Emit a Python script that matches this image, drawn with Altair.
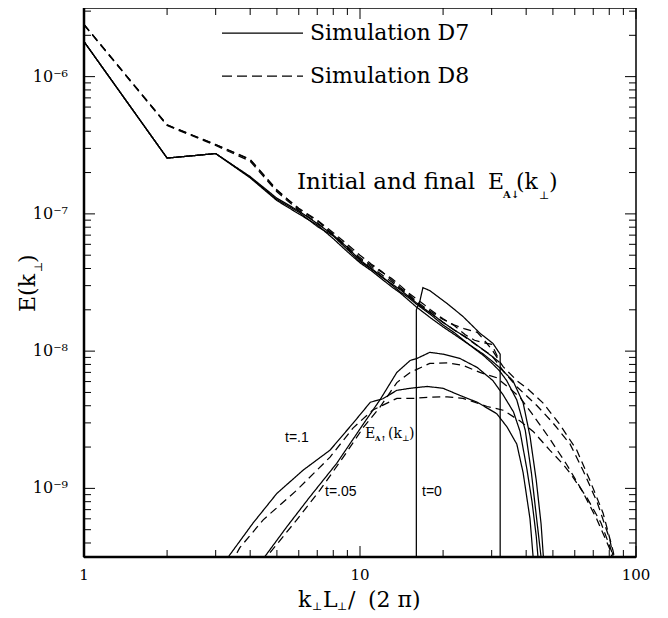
import altair as alt
import pandas as pd

W, H = 552, 549
SERIF = "DejaVu Serif"
SANS = "Liberation Sans"

# ---------------- data (k_perp L_perp / 2pi , E) ----------------
K_UP = [1, 2, 3, 4, 5, 6, 7, 8, 9, 10, 11, 12, 13, 14, 15, 16, 17, 18, 19, 20, 22, 24, 26, 28, 30, 32]
D7_INIT = [1.80e-6, 2.55e-7, 2.75e-7, 1.85e-7, 1.27e-7, 1.03e-7, 8.1e-8, 6.9e-8, 5.5e-8, 4.5e-8,
           3.95e-8, 3.45e-8, 3.1e-8, 2.8e-8, 2.5e-8, 2.25e-8, 2.05e-8, 1.9e-8, 1.75e-8, 1.62e-8,
           1.42e-8, 1.28e-8, 1.14e-8, 1.02e-8, 9.2e-9, 8.3e-9]
D8_INIT = [2.40e-6, 4.45e-7, 3.20e-7, 2.50e-7, 1.50e-7, 1.08e-7, 8.9e-8, 7.1e-8, 5.8e-8, 4.8e-8,
           4.2e-8, 3.75e-8, 3.4e-8, 3.0e-8, 2.65e-8, 2.4e-8, 2.2e-8, 2.0e-8, 1.85e-8, 1.72e-8,
           1.53e-8, 1.32e-8, 1.2e-8, 1.15e-8, 1.12e-8, 8.5e-9]

K_D7_FA = [1, 2, 3, 4, 5, 6, 7, 8, 9, 10, 11, 12, 13, 14, 15, 16, 18, 20, 22, 24, 26, 28, 30, 32,
           34, 37, 39.7, 41.8, 43.7, 45.6]
D7_FA = [1.80e-6, 2.55e-7, 2.75e-7, 1.87e-7, 1.30e-7, 1.05e-7, 8.5e-8, 7.0e-8, 5.7e-8, 4.6e-8,
         4.0e-8, 3.5e-8, 3.05e-8, 2.7e-8, 2.45e-8, 2.2e-8, 1.85e-8, 1.55e-8, 1.36e-8, 1.18e-8,
         1.04e-8, 9.3e-9, 8.2e-9, 7.2e-9, 6.1e-9, 4.4e-9, 2.65e-9, 1.29e-9, 5.9e-10, 2.8e-10]
K_D7_FB = [1, 2, 3, 4, 5, 6, 7, 8, 9, 10, 11, 12, 13, 14, 15, 16, 18, 20, 22, 24, 26, 28, 30, 32,
           35.8, 39, 41.3, 43.5, 45.3, 46.5]
D7_FB = [1.80e-6, 2.55e-7, 2.75e-7, 1.83e-7, 1.25e-7, 1.0e-7, 8.3e-8, 6.6e-8, 5.3e-8, 4.4e-8,
         3.85e-8, 3.35e-8, 2.95e-8, 2.65e-8, 2.35e-8, 2.1e-8, 1.75e-8, 1.5e-8, 1.32e-8, 1.17e-8,
         1.05e-8, 9.5e-9, 8.5e-9, 7.6e-9, 6.1e-9, 4.2e-9, 2.4e-9, 1.15e-9, 5.5e-10, 2.6e-10]

K_D8_FA = [1, 2, 3, 4, 5, 6, 7, 8, 9, 10, 11, 12, 13, 14, 15, 16, 18, 20, 22, 24, 26.6, 28, 30, 33,
           37, 40.3, 46, 52.7, 61, 68, 76, 82.6, 85.5]
D8_FA = [2.40e-6, 4.45e-7, 3.20e-7, 2.48e-7, 1.48e-7, 1.10e-7, 9.0e-8, 7.3e-8, 6.0e-8, 5.0e-8,
         4.3e-8, 3.8e-8, 3.3e-8, 2.9e-8, 2.6e-8, 2.3e-8, 1.95e-8, 1.7e-8, 1.55e-8, 1.45e-8,
         1.37e-8, 1.22e-8, 1.03e-8, 7.7e-9, 6.1e-9, 5.36e-9, 4.2e-9, 2.96e-9, 1.9e-9, 1.15e-9,
         6.6e-10, 3.5e-10, 2.4e-10]
K_D8_FB = [1, 2, 3, 4, 5, 6, 7, 8, 9, 10, 11, 12, 13, 14, 15, 16, 18, 20, 22, 24, 26, 28, 30, 33,
           37, 43.8, 50, 57.7, 64.3, 72.2, 80.5, 84.5]
D8_FB = [2.38e-6, 4.40e-7, 3.15e-7, 2.42e-7, 1.45e-7, 1.06e-7, 8.6e-8, 7.0e-8, 5.6e-8, 4.7e-8,
         4.1e-8, 3.6e-8, 3.2e-8, 2.85e-8, 2.55e-8, 2.25e-8, 1.9e-8, 1.62e-8, 1.42e-8, 1.27e-8,
         1.13e-8, 1.02e-8, 9.3e-9, 7.2e-9, 5.5e-9, 4.0e-9, 3.0e-9, 2.1e-9, 1.35e-9, 8.0e-10,
         4.2e-10, 2.5e-10]

# E_A-up (counter-propagating) spectra
K_T0 = [16.0, 16.0, 16.5, 16.9, 17.9, 20.7, 23.6, 27.2, 30.3, 32.2, 32.2]
UP_T0 = [1e-12, 2.0e-8, 2.34e-8, 2.9e-8, 2.76e-8, 2.22e-8, 1.79e-8, 1.35e-8, 1.14e-8, 9.5e-9, 1e-12]

K_T05_D7 = [4.3, 4.53, 5.43, 6.59, 8.23, 10.3, 11.8, 13.6, 15.2, 16.1, 17.9, 20.0, 23.0, 26.6,
            30.3, 33.0, 36.0, 38.0, 40.2, 42.0, 43.5, 44.5]
UP_T05_D7 = [2.7e-10, 3.2e-10, 5.25e-10, 8.7e-10, 1.52e-9, 2.96e-9, 4.4e-9, 7.0e-9, 8.55e-9,
             8.85e-9, 9.8e-9, 9.5e-9, 8.85e-9, 7.6e-9, 6.1e-9, 4.8e-9, 3.6e-9, 2.6e-9, 1.4e-9,
             8.0e-10, 4.5e-10, 2.6e-10]
K_T1_D7 = [3.25, 3.33, 4.1, 5.0, 6.23, 7.79, 9.43, 10.9, 12.1, 13.6, 15.2, 17.5, 20.0, 23.0,
           26.6, 31.3, 34.1, 37.0, 39.0, 41.3, 42.6]
UP_T1_D7 = [2.8e-10, 3.16e-10, 5.6e-10, 9.2e-10, 1.36e-9, 1.90e-9, 2.98e-9, 4.24e-9, 4.5e-9,
            5.18e-9, 5.36e-9, 5.53e-9, 5.36e-9, 4.76e-9, 4.24e-9, 3.5e-9, 2.8e-9, 2.1e-9,
            1.3e-9, 6.0e-10, 2.8e-10]
K_T05_D8 = [4.5, 4.72, 5.9, 7.16, 8.7, 10.3, 11.8, 13.6, 15.2, 17.9, 20.7, 23.6, 27.2, 31.3,
            35.0, 38.0, 42.0, 48.7, 56.0, 64.0, 72.0, 80.0, 84.5]
UP_T05_D8 = [2.8e-10, 3.4e-10, 5.9e-10, 9.7e-10, 1.69e-9, 2.79e-9, 3.9e-9, 5.9e-9, 7.0e-9,
             8.14e-9, 8.2e-9, 7.87e-9, 7.0e-9, 6.4e-9, 5.3e-9, 4.6e-9, 3.5e-9, 2.3e-9, 1.5e-9,
             9.5e-10, 6.0e-10, 3.7e-10, 2.5e-10]
K_T1_D8 = [3.4, 3.67, 4.46, 5.9, 7.79, 9.43, 11.1, 13.6, 15.6, 17.9, 20.7, 23.6, 28.9, 33.0,
           38.0, 42.4, 48.7, 54.4, 57.7, 66.3, 74.7, 81.5, 84.5]
UP_T1_D8 = [2.8e-10, 3.7e-10, 5.9e-10, 9.7e-10, 1.69e-9, 2.75e-9, 3.71e-9, 4.53e-9, 4.53e-9,
            4.61e-9, 4.65e-9, 4.53e-9, 3.95e-9, 3.71e-9, 3.1e-9, 2.6e-9, 1.9e-9, 1.5e-9,
            1.29e-9, 8.6e-10, 5.6e-10, 3.5e-10, 2.5e-10]

SERIES = [
    ("D7 down initial", "D7", K_UP, D7_INIT),
    ("D8 down initial", "D8", K_UP, D8_INIT),
    ("D7 down final a", "D7", K_D7_FA, D7_FA),
    ("D7 down final b", "D7", K_D7_FB, D7_FB),
    ("D8 down final a", "D8", K_D8_FA, D8_FA),
    ("D8 down final b", "D8", K_D8_FB, D8_FB),
    ("up t=0", "D7", K_T0, UP_T0),
    ("D7 up t=.05", "D7", K_T05_D7, UP_T05_D7),
    ("D7 up t=.1", "D7", K_T1_D7, UP_T1_D7),
    ("D8 up t=.05", "D8", K_T05_D8, UP_T05_D8),
    ("D8 up t=.1", "D8", K_T1_D8, UP_T1_D8),
]

X_MAJOR = [1, 10, 100]
X_LABELS = ["1", "10", "100"]
X_MINOR = [2, 3, 4, 5, 6, 7, 8, 9, 20, 30, 40, 50, 60, 70, 80, 90]
Y_MAJOR = [1e-9, 1e-8, 1e-7, 1e-6]
Y_LABELS = ["10⁻⁹", "10⁻⁸", "10⁻⁷", "10⁻⁶"]
Y_MINOR = [4e-10, 5e-10, 6e-10, 7e-10, 8e-10, 9e-10,
           2e-9, 3e-9, 4e-9, 5e-9, 6e-9, 7e-9, 8e-9, 9e-9,
           2e-8, 3e-8, 4e-8, 5e-8, 6e-8, 7e-8, 8e-8, 9e-8,
           2e-7, 3e-7, 4e-7, 5e-7, 6e-7, 7e-7, 8e-7, 9e-7,
           2e-6, 3e-6]

rows = []
for name, sim, ks, es in SERIES:
    for i, (k, e) in enumerate(zip(ks, es)):
        rows.append({"series": name, "sim": sim, "k": k, "E": e, "i": i})
df = pd.DataFrame(rows)

xs = alt.Scale(type="log", domain=[1, 100])
ys = alt.Scale(type="log", domain=[10 ** -9.5, 10 ** -5.5])

lines = alt.Chart(df).mark_line(clip=True, color="black", strokeWidth=1.25).encode(
    x=alt.X("k:Q", scale=xs, axis=None),
    y=alt.Y("E:Q", scale=ys, axis=None),
    detail="series:N",
    order="i:Q",
    strokeDash=alt.StrokeDash("sim:N", scale=alt.Scale(domain=["D7", "D8"], range=[[1, 0], [8, 5]]),
                              legend=None),
)


def xticks(vals, length, top):
    d = pd.DataFrame({"v": vals})
    y0, y1 = (0, length) if top else (H, H - length)
    return alt.Chart(d).mark_rule(color="black", strokeWidth=1).encode(
        x=alt.X("v:Q", scale=xs, axis=None), y=alt.value(y0), y2=alt.value(y1))


def yticks(vals, length, right):
    d = pd.DataFrame({"v": vals})
    x0, x1 = (W, W - length) if right else (0, length)
    return alt.Chart(d).mark_rule(color="black", strokeWidth=1).encode(
        y=alt.Y("v:Q", scale=ys, axis=None), x=alt.value(x0), x2=alt.value(x1))


x_lab = alt.Chart(pd.DataFrame({"v": X_MAJOR, "t": X_LABELS})).mark_text(
    font=SERIF, fontSize=15, color="black", align="center", baseline="middle").encode(
    x=alt.X("v:Q", scale=xs, axis=None), y=alt.value(H + 18), text="t:N")
y_lab = alt.Chart(pd.DataFrame({"v": Y_MAJOR, "t": Y_LABELS})).mark_text(
    font=SERIF, fontSize=16, color="black", align="right", baseline="middle").encode(
    y=alt.Y("v:Q", scale=ys, axis=None), x=alt.value(-16), text="t:N")

one = pd.DataFrame({"a": [0]})


def label(txt, x, y, size, font=SERIF, weight="normal", angle=0, align="left"):
    return alt.Chart(one).mark_text(text=txt, font=font, fontSize=size, fontWeight=weight,
                                    angle=angle, align=align, baseline="middle",
                                    color="black").encode(x=alt.value(x), y=alt.value(y))


def seg(x1, x2, y, dash, width=1.25):
    return alt.Chart(one).mark_rule(color="black", strokeWidth=width, strokeDash=dash).encode(
        x=alt.value(x1), x2=alt.value(x2), y=alt.value(y))


def vseg(x, y1, y2, width):
    return alt.Chart(one).mark_rule(color="black", strokeWidth=width).encode(
        x=alt.value(x), y=alt.value(y1), y2=alt.value(y2))


layers = [lines,
          xticks(X_MAJOR, 11, False), xticks(X_MINOR, 7, False),
          xticks(X_MAJOR, 11, True), xticks(X_MINOR, 7, True),
          yticks(Y_MAJOR, 11, False), yticks(Y_MINOR, 7, False),
          yticks(Y_MAJOR, 11, True), yticks(Y_MINOR, 7, True),
          x_lab, y_lab,
          # heavier left and bottom frame
          vseg(0, 0, H, 2.5), seg(0, W, H, [1, 0], 2.5),
          # legend
          seg(138, 219, 25, [1, 0]), label("Simulation D7", 226, 25, 22),
          seg(138, 219, 68, [10, 5]), label("Simulation D8", 226, 68, 22),
          # big annotation
          label("Initial and final", 213, 174, 23),
          label("E", 404, 174, 22), label("A↓", 419, 187, 10, weight="bold"),
          label("(k", 432, 174, 22), label("⊥", 455, 188, 11), label(")", 465, 174, 22),
          # small annotations
          label("t=.1", 201, 430, 14, font=SANS),
          label("t=.05", 241, 484, 14, font=SANS),
          label("t=0", 338, 484, 14, font=SANS),
          label("E", 281, 426, 14), label("A↑", 291, 431, 7, weight="bold"),
          label("(k", 304, 426, 14), label("⊥", 318, 431, 8), label(")", 325, 426, 14),
          # x title
          label("k", 214, 592, 22), label("⊥", 228, 599, 11),
          label("L", 239, 592, 22), label("⊥", 253, 599, 11),
          label("/", 264, 592, 22), label("(2 π)", 284, 592, 22),
          # y title (rotated)
          label("E(k", -56, 304, 22, angle=270), label("⊥", -45, 264, 11, angle=270),
          label(")", -56, 255, 22, angle=270),
          ]

chart = alt.layer(*layers).properties(
    width=W, height=H,
    autosize=alt.AutoSizeParams(type="none"),
    padding={"left": 76, "top": 0, "right": 20, "bottom": 60},
    background="white",
).configure_view(stroke="black", strokeWidth=1.5)

chart.save("out.html", embed_options={"renderer": "svg", "actions": False})
